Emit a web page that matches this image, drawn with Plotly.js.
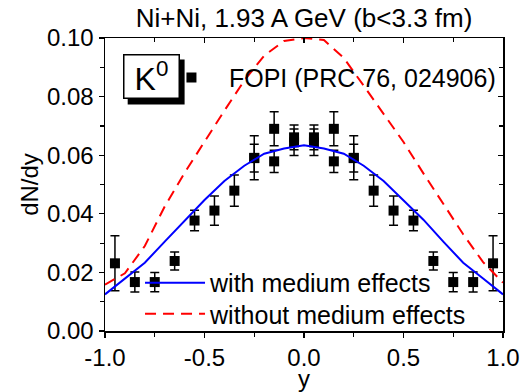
<!DOCTYPE html>
<html>
<head>
<meta charset="utf-8">
<script src="https://cdn.plot.ly/plotly-3.0.1.min.js"></script>
<style>
  html, body { margin: 0; padding: 0; background: #fff; }
  #chart { width: 528px; height: 392px; }
</style>
</head>
<body>
<div id="chart"></div>
<script>
// ---- data ----
var rapidity = [-0.95, -0.85, -0.75, -0.65, -0.55, -0.45, -0.35, -0.25, -0.25, -0.15, -0.15, -0.05, -0.05,
                 0.05, 0.05, 0.15, 0.15, 0.25, 0.25, 0.35, 0.45, 0.55, 0.65, 0.75, 0.85, 0.95];
var dNdyData = [0.0231, 0.0167, 0.0167, 0.0239, 0.0377, 0.0411, 0.0479, 0.0591, 0.0590, 0.0690, 0.0579, 0.0661, 0.0644,
                0.0644, 0.0661, 0.0579, 0.0690, 0.0590, 0.0591, 0.0479, 0.0411, 0.0377, 0.0239, 0.0167, 0.0167, 0.0231];
var dNdyErr  = [0.0094, 0.0034, 0.0033, 0.0031, 0.0035, 0.0050, 0.0053, 0.0075, 0.0047, 0.0058, 0.0038, 0.0042, 0.0045,
                0.0045, 0.0042, 0.0038, 0.0058, 0.0047, 0.0075, 0.0053, 0.0050, 0.0035, 0.0031, 0.0033, 0.0034, 0.0094];

var rapidityModel = [-1.0, -0.9, -0.8, -0.7, -0.6, -0.5, -0.4, -0.3, -0.2, -0.1, 0.0,
                      0.1, 0.2, 0.3, 0.4, 0.5, 0.6, 0.7, 0.8, 0.9, 1.0];
var withMedium    = [0.0125, 0.0179, 0.0233, 0.0305, 0.0375, 0.0447, 0.0512, 0.0564, 0.0605, 0.0623, 0.0634,
                     0.0623, 0.0605, 0.0564, 0.0512, 0.0447, 0.0380, 0.0305, 0.0233, 0.0179, 0.0125];
var withoutMedium = [0.0158, 0.0197, 0.0290, 0.0425, 0.0540, 0.0648, 0.0752, 0.0855, 0.0940, 0.0990, 0.1000,
                     0.0993, 0.0932, 0.0837, 0.0743, 0.0645, 0.0538, 0.0432, 0.0330, 0.0235, 0.0165];

var xTickVals = [-1.0, -0.5, 0.0, 0.5, 1.0];
var xTickText = ['-1.0', '-0.5', '0.0', '0.5', '1.0'];
var yTickVals = [0.00, 0.02, 0.04, 0.06, 0.08, 0.10];
var yTickText = ['0.00', '0.02', '0.04', '0.06', '0.08', '0.10'];

var titleText = 'Ni+Ni, 1.93 A GeV (b&lt;3.3 fm)';
var xTitle = 'y';
var yTitle = 'dN/dy';
var dataName = 'FOPI (PRC 76, 024906)';
var withName = 'with medium effects';
var withoutName = 'without medium effects';
var particleLabel = 'K<sup>0</sup>';

// ---- chart ----
var FONT = 'Liberation Sans, Arial, sans-serif';

var traces = [
  {
    x: rapidity, y: dNdyData, type: 'scatter', mode: 'markers', name: dataName,
    marker: {symbol: 'square', size: 10, color: '#000'},
    error_y: {type: 'data', array: dNdyErr, visible: true, color: '#000', thickness: 1.5, width: 4.5},
    legend: 'legend', cliponaxis: false
  },
  {
    x: rapidityModel, y: withoutMedium, type: 'scatter', mode: 'lines', name: withoutName,
    line: {color: '#ff0000', width: 2, dash: '11px,7px'},
    legend: 'legend3'
  },
  {
    x: rapidityModel, y: withMedium, type: 'scatter', mode: 'lines', name: withName,
    line: {color: '#0000ff', width: 2},
    legend: 'legend2'
  },
  {
    // carrier for the mirrored top/right axes (invisible)
    x: rapidityModel, y: withMedium, xaxis: 'x2', yaxis: 'y2', type: 'scatter', mode: 'lines',
    line: {color: 'rgba(0,0,0,0)', width: 0}, showlegend: false, hoverinfo: 'skip'
  }
];

var axisCommon = {
  showgrid: false, zeroline: false, showline: true, linecolor: '#000', linewidth: 1.5,
  tickcolor: '#000', tickwidth: 1.2
};

function legendBox(x, y, iw) {
  return {
    x: x, xref: 'paper', xanchor: 'left', y: y, yref: 'paper', yanchor: 'middle',
    bgcolor: 'rgba(0,0,0,0)', borderwidth: 0, itemwidth: iw,
    font: {family: FONT, size: 25, color: '#000'}, itemclick: false
  };
}

var layout = {
  width: 528, height: 392,
  margin: {l: 105, r: 25, t: 38, b: 61},
  paper_bgcolor: '#fff', plot_bgcolor: '#fff',
  font: {family: FONT, color: '#000', size: 24},
  showlegend: true,
  title: {text: titleText, font: {family: FONT, size: 26, color: '#000'},
          x: 0.5, xref: 'paper', xanchor: 'center', y: 0.955, yref: 'container', yanchor: 'middle'},
  xaxis: Object.assign({}, axisCommon, {
    range: [-1.0, 1.0], ticks: 'outside', ticklen: 5,
    tickmode: 'array', tickvals: xTickVals, ticktext: xTickText,
    tickfont: {family: FONT, size: 24, color: '#000'},
    minor: {tickmode: 'linear', tick0: -1, dtick: 0.25, ticks: 'outside', ticklen: 4, tickcolor: '#000', tickwidth: 1.2},
    title: {text: xTitle, font: {family: FONT, size: 24, color: '#000'}, standoff: 10}
  }),
  yaxis: Object.assign({}, axisCommon, {
    range: [0, 0.1], ticks: 'outside', ticklen: 5,
    tickmode: 'array', tickvals: yTickVals, ticktext: yTickText,
    tickfont: {family: FONT, size: 24, color: '#000'},
    minor: {tickmode: 'linear', tick0: 0, dtick: 0.01, ticks: 'outside', ticklen: 4, tickcolor: '#000', tickwidth: 1.2},
    title: {text: yTitle, font: {family: FONT, size: 24, color: '#000'}, standoff: 1}
  }),
  xaxis2: Object.assign({}, axisCommon, {
    overlaying: 'x', side: 'top', anchor: 'y', range: [-1.0, 1.0], ticks: 'inside', ticklen: 5,
    tickmode: 'array', tickvals: xTickVals, showticklabels: false,
    minor: {tickmode: 'linear', tick0: -1, dtick: 0.25, ticks: 'inside', ticklen: 4, tickcolor: '#000', tickwidth: 1.2}
  }),
  yaxis2: Object.assign({}, axisCommon, {
    overlaying: 'y', side: 'right', anchor: 'x', range: [0, 0.1], ticks: 'inside', ticklen: 5,
    tickmode: 'array', tickvals: yTickVals, showticklabels: false,
    minor: {tickmode: 'linear', tick0: 0, dtick: 0.01, ticks: 'inside', ticklen: 4, tickcolor: '#000', tickwidth: 1.2}
  }),
  legend: legendBox(0.123, 0.864, 65),
  legend2: legendBox(0.088, 0.164, 60),
  legend3: legendBox(0.088, 0.058, 60),
  shapes: [
    {
      type: 'rect', xref: 'paper', yref: 'paper', x0: 0.057, x1: 0.200, y0: 0.773, y1: 0.927,
      fillcolor: '#000', line: {width: 0}, layer: 'above'
    }
  ],
  annotations: [
    {
      text: particleLabel, xref: 'paper', yref: 'paper', x: 0.116, y: 0.867,
      xanchor: 'center', yanchor: 'middle', showarrow: false, width: 50, height: 38,
      bgcolor: '#fff', bordercolor: '#000', borderwidth: 1.5, borderpad: 2,
      font: {family: FONT, size: 32, color: '#000'}
    }
  ]
};

Plotly.newPlot('chart', traces, layout, {displayModeBar: false, staticPlot: true});
</script>
</body>
</html>
